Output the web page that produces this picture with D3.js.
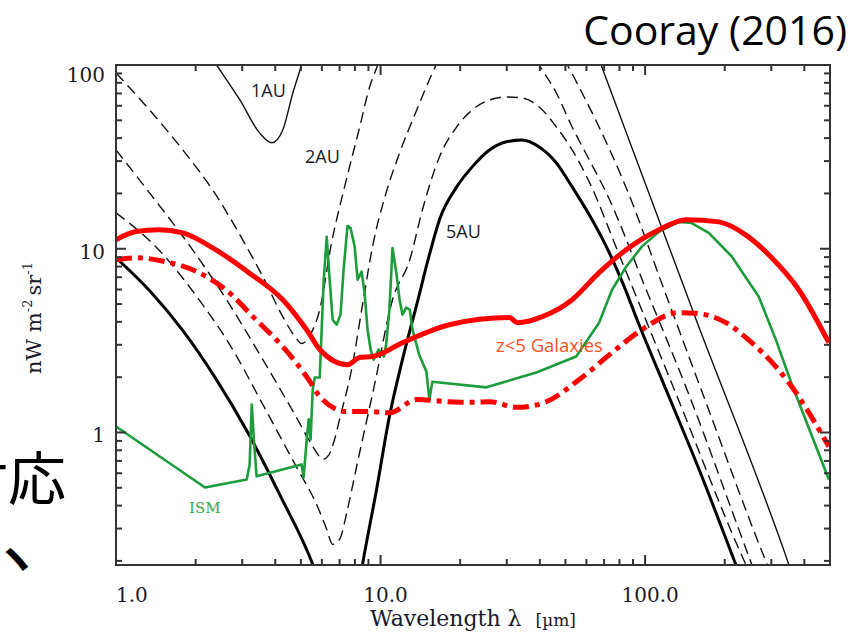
<!DOCTYPE html>
<html lang="ja">
<head>
<meta charset="utf-8">
<title>Zodiacal light vs z&lt;5 galaxies</title>
<script src="https://d3js.org/d3.v7.min.js"></script>
<style>
  body { margin: 0; background: #fff; }
</style>
</head>
<body>
<script>

// --- data: [wavelength (um), intensity (nW m^-2 sr^-1)], null = gap off the chart ---
var galaxiesUpper = [[1.0,11.2],[1.19,12.4],[1.45,12.7],[1.79,12.2],[2.38,9.88],[3.18,7.41],[4.27,5.28],
  [5.35,3.49],[5.89,2.83],[7.50,2.34],[8.34,2.56],[9.33,2.59],[12.1,3.08],[18.2,3.86],[30.7,4.22],
  [32.9,3.96],[40.9,4.27],[53.0,5.28],[67.0,7.41],[84.8,9.88],[113,12.7],[143,14.4],[190,14.0],
  [240,11.9],[301,8.93],[381,5.98],[495,3.08]];

var galaxiesLower = [[1.0,8.71],[1.19,8.93],[1.54,8.50],[2.06,7.41],[2.60,5.98],[3.38,4.11],[4.27,2.93],
  [5.35,1.94],[5.89,1.57],[7.44,1.30],[9.09,1.30],[10.8,1.28],[13.7,1.51],[18.2,1.47],[21.7,1.46],
  [25.8,1.47],[32.9,1.37],[42.3,1.47],[56.4,1.94],[75.0,2.72],[97.4,3.63],[134,4.49],[160,4.43],
  [202,3.96],[253,3.08],[312,2.28],[349,1.87],[495,0.839]];

var ism = [[1.0,1.078],[2.17,0.502],[3.12,0.555],[3.20,0.670],[3.26,1.42],[3.32,0.916],[3.40,0.577],
  [5.03,0.670],[5.12,0.569],[5.26,0.916],[5.35,1.18],[5.44,0.916],[5.54,1.71],[5.64,1.99],[5.89,1.99],
  [5.99,3.63],[6.10,6.79],[6.26,11.6],[6.42,6.79],[6.59,4.11],[6.82,3.86],[7.06,4.38],[7.25,7.69],
  [7.50,13.3],[7.70,13.0],[7.98,10.3],[8.19,6.79],[8.48,7.50],[8.70,5.77],[8.93,3.63],[9.17,2.83],
  [9.41,2.49],[9.83,2.83],[10.3,2.59],[10.5,3.01],[10.8,4.66],[11.1,10.1],[11.5,7.22],[11.8,5.28],
  [12.1,4.38],[12.5,4.78],[12.9,4.66],[13.2,3.63],[14.0,2.65],[14.9,2.15],[15.3,1.51],[15.7,1.89],
  [25.1,1.76],[38.8,2.12],[54.9,2.59],[67.0,3.96],[75.0,5.98],[84.8,7.98],[97.4,10.3],[113,12.4],
  [134,14.0],[150,13.8],[174,12.2],[213,9.05],[269,5.48],[312,3.20],[359,1.82],[495,0.555]];

var au1 = [[2.17,124],[2.40,100],[2.94,64.5],[3.49,42.7],[3.88,37.7],[4.27,44.3],[4.66,70.4],[5.03,100],[5.30,128],
  null,
  [61.5,149],[68.2,100],[156,4.11],[349,0.192],[370,0.15]];

var au2 = [[1.0,90.5],[1.34,56.9],[1.85,32.4],[2.32,20.9],[3.01,11.2],[3.59,7.04],[4.27,4.27],[4.78,3.28],
  [5.03,3.05],[5.40,3.37],[5.89,4.66],[6.53,10.8],[7.31,21.7],[8.34,46.0],[9.09,75.9],[9.75,100],[10.3,128],
  null,
  [45.4,128],[50.8,100],[57.8,70.4],[67.0,46.0],[85.5,20.9],[118,5.98],[163,1.71],[289,0.192],[310,0.15]];

var au3 = [[1.0,34.5],[1.33,20.4],[1.88,10.6],[2.69,4.96],[3.59,2.49],[4.82,1.20],[5.40,0.894],[5.73,0.778],
  [6.04,0.713],[6.36,0.750],[6.70,0.916],[7.00,1.18],[7.77,2.20],[8.55,4.96],[9.33,10.3],[10.5,20.2],
  [11.8,33.2],[13.7,56.9],[15.7,90.5],[16.7,109],
  null,
  [35.9,128],[39.8,100],[46.2,70.4],[53.0,46.0],[61.5,30.5],[71.3,20.2],[101,5.98],[144,1.71],[253,0.192],[270,0.15]];

var au4 = [[1.0,15.7],[1.45,9.88],[2.06,5.28],[2.69,3.01],[3.59,1.42],[4.82,0.645],[5.73,0.406],[6.26,0.297],
  [6.59,0.246],[7.00,0.262],[7.50,0.382],[8.12,0.653],[9.49,1.82],[11.1,5.28],[12.9,8.71],[14.4,16.3],
  [16.7,31.6],[19.4,46.0],[22.2,56.9],[25.8,64.5],[29.9,67.0],[34.3,66.2],[39.8,59.1],[46.2,46.0],
  [53.0,34.5],[61.5,23.1],[79.8,9.28],[129,1.71],[240,0.192],[260,0.15]];

var au5 = [[1.0,8.93],[1.33,5.98],[1.79,3.58],[2.38,1.97],[3.18,0.975],[4.19,0.449],[5.54,0.192],[5.9,0.15],
  null,
  [8.3,0.15],[8.55,0.192],[9.66,0.490],[10.8,1.22],[12.1,2.49],[13.7,4.96],[15.3,9.28],[16.7,14.4],
  [19.4,21.7],[22.2,27.9],[25.8,34.5],[29.9,38.2],[34.3,39.1],[39.8,35.8],[46.2,29.3],[53.0,21.7],
  [61.5,15.3],[71.3,10.3],[81.9,6.62],[94.9,3.86],[120,1.71],[160,0.629],[220,0.192],[235,0.15]];

var xMajor = [1, 10, 100];
var xTickLabels = ["1.0", "10.0", "100.0"];
var yMajor = [1, 10, 100];
var yTickLabels = ["1", "10", "100"];

// --- layout ---
var width = 857, height = 633;
var plotL = 116, plotR = 830, plotT = 65, plotB = 565;

var x = d3.scaleLog().domain([1, 500]).range([plotL, plotR]);
var y = d3.scaleLog().domain([0.19, 100]).range([plotB, plotT]);

var svg = d3.select("body").append("svg")
  .attr("width", width)
  .attr("height", height);

svg.append("defs").append("clipPath").attr("id", "plot")
  .append("rect")
  .attr("x", plotL).attr("y", plotT)
  .attr("width", plotR - plotL).attr("height", plotB - plotT);

var line = d3.line()
  .defined(function(d) { return d != null; })
  .x(function(d) { return x(d[0]); })
  .y(function(d) { return y(d[1]); });

var curves = svg.append("g").attr("clip-path", "url(#plot)");

function draw(data, color, w, dash, curve) {
  curves.append("path")
    .datum(data)
    .attr("fill", "none")
    .attr("stroke", color)
    .attr("stroke-width", w)
    .attr("stroke-dasharray", dash)
    .attr("stroke-linejoin", "round")
    .attr("d", line.curve(curve || d3.curveMonotoneX));
}

draw(au1, "#111", 1.4, null);
draw(au2, "#111", 1.4, "11,6");
draw(au3, "#111", 1.4, "11,6");
draw(au4, "#111", 1.4, "11,6");
draw(au5, "#000", 3, null);
draw(ism, "#1c9c3c", 2.6, null, d3.curveLinear);
draw(galaxiesLower, "#ff0000", 5, "16,6,5,6");
draw(galaxiesUpper, "#ff0000", 5, null);

// --- frame and ticks ---
var frame = svg.append("g").attr("stroke", "#333").attr("stroke-width", 2);
frame.append("rect")
  .attr("x", plotL).attr("y", plotT)
  .attr("width", plotR - plotL).attr("height", plotB - plotT)
  .attr("fill", "none");

x.ticks().forEach(function(v) {
  var len = xMajor.indexOf(v) >= 0 ? 10 : 6;
  var px = x(v);
  frame.append("line").attr("x1", px).attr("x2", px).attr("y1", plotB).attr("y2", plotB - len);
  frame.append("line").attr("x1", px).attr("x2", px).attr("y1", plotT).attr("y2", plotT + len);
});
y.ticks().forEach(function(v) {
  var len = yMajor.indexOf(v) >= 0 ? 10 : 6;
  var py = y(v);
  frame.append("line").attr("y1", py).attr("y2", py).attr("x1", plotL).attr("x2", plotL + len);
  frame.append("line").attr("y1", py).attr("y2", py).attr("x1", plotR).attr("x2", plotR - len);
});

var serif = "'DejaVu Serif', 'Liberation Serif', serif";

svg.selectAll(".xlab").data(xMajor).enter().append("text")
  .attr("x", function(d) { return x(d) + (d == 1 ? 0 : 5); })
  .attr("y", 602)
  .attr("text-anchor", function(d) { return d == 1 ? "start" : "middle"; })
  .attr("font-family", serif)
  .attr("font-size", 20)
  .attr("fill", "#1a1a2a")
  .text(function(d, i) { return xTickLabels[i]; });

svg.selectAll(".ylab").data(yMajor).enter().append("text")
  .attr("x", 105)
  .attr("y", function(d) { return y(d) + (d == 100 ? 17 : 10); })
  .attr("text-anchor", "end")
  .attr("font-family", serif)
  .attr("font-size", 20)
  .attr("fill", "#1a1a2a")
  .text(function(d, i) { return yTickLabels[i]; });

// axis titles
var xt = svg.append("text")
  .attr("x", 370).attr("y", 626)
  .attr("font-family", serif)
  .attr("font-size", 22)
  .attr("fill", "#1a1a2a");
xt.append("tspan").text("Wavelength \u03bb");
xt.append("tspan").attr("font-size", 17).attr("dx", 14).text("[\u00b5m]");

var yt = svg.append("text")
  .attr("transform", "translate(41,318) rotate(-90)")
  .attr("text-anchor", "middle")
  .attr("font-family", serif)
  .attr("font-size", 21)
  .attr("fill", "#1a1a2a");
yt.append("tspan").text("nW m");
yt.append("tspan").attr("font-size", 13).attr("dy", -9).text("-2");
yt.append("tspan").attr("dy", 9).attr("dx", 4).text("sr");
yt.append("tspan").attr("font-size", 13).attr("dy", -9).text("-1");

// curve labels
var sans = "'Open Sans', 'Liberation Sans', sans-serif";
svg.append("text").attr("x", 251).attr("y", 97).attr("font-family", sans).attr("font-size", 18)
  .attr("fill", "#1a1a2a").text("1AU");
svg.append("text").attr("x", 305).attr("y", 163).attr("font-family", sans).attr("font-size", 18)
  .attr("fill", "#1a1a2a").text("2AU");
svg.append("text").attr("x", 446).attr("y", 238).attr("font-family", sans).attr("font-size", 18)
  .attr("fill", "#1a1a2a").text("5AU");
svg.append("text").attr("x", 189).attr("y", 513).attr("font-family", serif).attr("font-size", 15)
  .attr("fill", "#3aa845").text("ISM");
svg.append("text").attr("x", 496).attr("y", 352).attr("font-family", sans).attr("font-size", 18.5)
  .attr("fill", "#ff4f1f").text("z<5 Galaxies");

// citation and slide fragments
svg.append("text").attr("x", 847).attr("y", 45).attr("text-anchor", "end")
  .attr("font-family", sans).attr("font-size", 41).attr("fill", "#000")
  .text("Cooray (2016)");

var cjk = "'Noto Sans CJK JP', sans-serif";
svg.append("text").attr("x", 66).attr("y", 500).attr("text-anchor", "end")
  .attr("font-family", cjk).attr("font-size", 58).attr("fill", "#000")
  .text("対応");
svg.append("text").attr("x", 16).attr("y", 575).attr("text-anchor", "middle")
  .attr("font-family", cjk).attr("font-size", 44).attr("font-weight", 700).attr("fill", "#000")
  .text("ヽ");

</script>
</body>
</html>
